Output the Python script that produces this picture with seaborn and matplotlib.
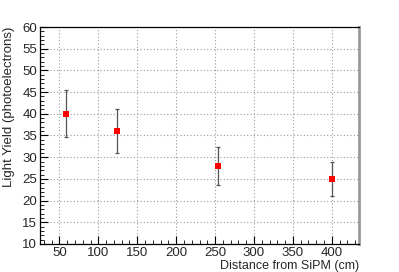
import numpy as np
import pandas as pd
import matplotlib
matplotlib.use("Agg")
import matplotlib.pyplot as plt
from matplotlib.ticker import MultipleLocator
import seaborn as sns

# data
distance = [59, 124.5, 254, 400]
light_yield = [40, 36, 28, 25]
yield_err = [5.4, 5.0, 4.3, 4.0]

df = pd.DataFrame({"distance": distance, "light_yield": light_yield, "err": yield_err})

sns.set_style("ticks")
plt.rcParams["font.family"] = ["Liberation Sans", "DejaVu Sans"]

fig = plt.figure(figsize=(3.99, 2.72), dpi=100)
ax = fig.add_axes([0.1003, 0.103, 0.7994, 0.7977])

ax.errorbar(df.distance, df.light_yield, yerr=df.err, fmt="none",
            ecolor="#555555", elinewidth=0.9, capsize=1.5, capthick=0.9, zorder=2)
sns.scatterplot(data=df, x="distance", y="light_yield", marker="s", s=22,
                color="#ff0000", edgecolor="#ff0000", linewidth=0, ax=ax, zorder=3)

ax.set_xlim(25, 435)
ax.set_ylim(10, 60)
ax.xaxis.set_major_locator(MultipleLocator(50))
ax.xaxis.set_minor_locator(MultipleLocator(10))
ax.yaxis.set_major_locator(MultipleLocator(5))
ax.yaxis.set_minor_locator(MultipleLocator(1))
ax.tick_params(which="both", direction="in", top=False, right=False,
               labelsize=9.5, color="black", pad=2)
ax.tick_params(which="major", length=6, width=0.8)
ax.tick_params(which="minor", length=3, width=0.6)
ax.grid(True, which="major", linestyle=(0, (1, 2)), color="#999999", linewidth=0.8)

for s in ax.spines.values():
    s.set_linewidth(0.9)
    s.set_color("black")
ax.spines["right"].set_color("#999999")
ax.spines["right"].set_linewidth(2)

ax.set_xlabel("Distance from SiPM (cm)", fontsize=9, loc="right", labelpad=1)
ax.set_ylabel("Light Yield (photoelectrons)", fontsize=9.5, loc="top", labelpad=5)

fig.savefig("out.png", dpi=100)
